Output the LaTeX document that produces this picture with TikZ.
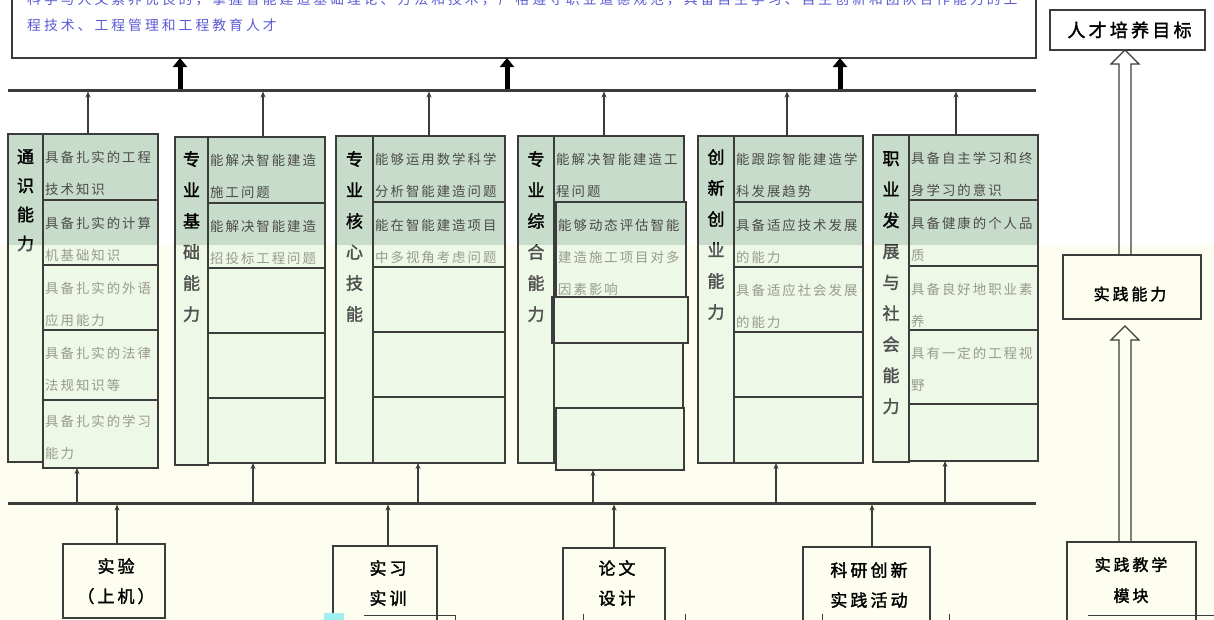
\documentclass[tikz,border=0pt]{standalone}
\usepackage{fontspec}
\newfontfamily\cjk{Noto Sans CJK SC}[LetterSpace=15]
\newfontfamily\cjkT{Noto Sans CJK SC}[LetterSpace=22]
\newfontfamily\cjkB{Noto Sans CJK SC}[FakeBold=1.8]
\newfontfamily\cjkBs{Noto Sans CJK SC}[FakeBold=1.8,LetterSpace=18]
\usetikzlibrary{arrows.meta,calc}
\definecolor{lineclr}{HTML}{3C3C3C}
\definecolor{upfill}{HTML}{C8DCCB}
\definecolor{lowfill}{HTML}{EDF8E6}
\definecolor{cream}{HTML}{FEFEF0}
\definecolor{toptext}{HTML}{5B5BD6}
\definecolor{upitem}{HTML}{4A4A4A}
\definecolor{lowitem}{HTML}{9A9A8E}
\definecolor{lowlabel}{HTML}{505050}
\definecolor{glitch}{HTML}{A0F0F0}
\tikzset{
  x=1pt, y=-1pt,
  box/.style={draw=lineclr, line width=1.2pt, inner sep=0pt, outer sep=0pt, anchor=north west},
  itm/.style={inner sep=0pt, anchor=north west, align=left, font={\cjk\fontsize{13.4}{32}\selectfont}},
  lbl/.style={inner sep=0pt, anchor=north, align=center, font={\cjkB\fontsize{17}{31}\selectfont}},
  btxt/.style={inner sep=0pt, anchor=north, align=center, text=black, font={\cjkBs\fontsize{17}{30}\selectfont}},
  mainline/.style={draw=lineclr, line width=3pt},
  thinarr/.style={draw=lineclr, line width=1.2pt, -{Stealth[length=6pt,width=5pt]}},
  thickarr/.style={draw=black, line width=5pt, -{Triangle[width=14pt,length=9pt]}},
  hollow/.style={draw=lineclr, line width=1.2pt, line join=miter},
}
\newcommand\bx[5]{\node[box, minimum width={#4-#2}, minimum height={#5-#3}] (#1) at (#2,#3) {};}
\def\boxlist{c1L/8/134/43/462, c1a/43/134/158/200, c1b/43/200/158/265, c1c/43/265/158/330, c1d/43/330/158/400, c1e/43/400/158/468,
c2L/175/137/208/465, c2a/208/137/325/203, c2b/208/203/325/268, c2c/208/268/325/333, c2d/208/333/325/398, c2e/208/398/325/463,
c3L/336/136/373/463, c3a/373/136/505/202, c3b/373/202/505/267, c3c/373/267/505/332, c3d/373/332/505/397, c3e/373/397/505/463,
c4L/518/136/554/463, c4a/554/136/684/202, c4b/556/202/686/297, c4c/552/297/688/343, c4d/554/343/683/408, c4e/556/408/684/470,
c5L/698/136/734/463, c5a/734/136/863/202, c5b/734/202/863/267, c5c/734/267/863/332, c5d/734/332/863/397, c5e/734/397/863/463,
c6L/873/135/909/462, c6a/909/135/1038/200, c6b/909/200/1038/266, c6c/909/266/1038/330, c6d/909/330/1038/404, c6e/909/404/1038/461}
\newcommand\itemtexts[3]{%
  \node[itm,text=#1] (t1a#3) at (45,151) {具备扎实的工程\\技术知识};
  \node[itm,text=#1] (t1b#3) at (45,217) {具备扎实的计算\\机基础知识};
  \node[itm,text=#1] (t1c#3) at (45,282) {具备扎实的外语\\应用能力};
  \node[itm,text=#1] (t1d#3) at (45,347) {具备扎实的法律\\法规知识等};
  \node[itm,text=#1] (t1e#3) at (45,415) {具备扎实的学习\\能力};
  \node[itm,text=#1] (t2a#3) at (210,154) {能解决智能建造\\施工问题};
  \node[itm,text=#1] (t2b#3) at (210,220) {能解决智能建造\\招投标工程问题};
  \node[itm,text=#1] (t3a#3) at (375,153) {能够运用数学科学\\分析智能建造问题};
  \node[itm,text=#1] (t3b#3) at (375,219) {能在智能建造项目\\中多视角考虑问题};
  \node[itm,text=#1] (t4a#3) at (556,153) {能解决智能建造工\\程问题};
  \node[itm,text=#1] (t4b#3) at (558,219) {能够动态评估智能\\建造施工项目对多\\因素影响};
  \node[itm,text=#1] (t5a#3) at (736,153) {能跟踪智能建造学\\科发展趋势};
  \node[itm,text=#1] (t5b#3) at (736,219) {具备适应技术发展\\的能力};
  \node[itm,text=#1] (t5c#3) at (736,284) {具备适应社会发展\\的能力};
  \node[itm,text=#1] (t6a#3) at (911,152) {具备自主学习和终\\身学习的意识};
  \node[itm,text=#1] (t6b#3) at (911,217) {具备健康的个人品\\质};
  \node[itm,text=#1] (t6c#3) at (911,283) {具备良好地职业素\\养};
  \node[itm,text=#1] (t6d#3) at (911,347) {具有一定的工程视\\野};
  \node[lbl,text=#2,font={\cjkB\fontsize{17}{29}\selectfont}] (L1#3) at (25.5,149) {通\\识\\能\\力};
  \node[lbl,text=#2] (L2#3) at (191.5,151) {专\\业\\基\\础\\能\\力};
  \node[lbl,text=#2] (L3#3) at (354.5,151) {专\\业\\核\\心\\技\\能};
  \node[lbl,text=#2] (L4#3) at (536,151) {专\\业\\综\\合\\能\\力};
  \node[lbl,text=#2] (L5#3) at (716,149) {创\\新\\创\\业\\能\\力};
  \node[lbl,text=#2] (L6#3) at (891,151) {职\\业\\发\\展\\与\\社\\会\\能\\力};
}
\begin{document}
\begin{tikzpicture}
\useasboundingbox (0,0) rectangle (1214,619);
% backgrounds
\fill[white] (0,-30) rectangle (1214,245);
\fill[cream] (0,245) rectangle (1214,640);
% top goal box
\node[box, minimum width=1024, minimum height=74] (goal) at (12,-16) {};
\node[inner sep=0pt, anchor=north west, align=left, text=toptext, font={\cjkT\fontsize{13.8}{26}\selectfont}] (goaltxt) at (27,-7)
  {科学与人文素养优良的，掌握智能建造基础理论、方法和技术，严格遵守职业道德规范，具备自主学习、自主创新和团队合作能力的工\\程技术、工程管理和工程教育人才};
% columns: fills and texts, two tones
\begin{scope}
  \clip (0,-30) rectangle (1214,245);
  \foreach \n/\a/\b/\c/\d in \boxlist {\fill[upfill] (\a,\b) rectangle (\c,\d);}
  \itemtexts{upitem}{black}{u}
\end{scope}
\begin{scope}
  \clip (0,245) rectangle (1214,640);
  \foreach \n/\a/\b/\c/\d in \boxlist {\fill[lowfill] (\a,\b) rectangle (\c,\d);}
  \itemtexts{lowitem}{lowlabel}{l}
\end{scope}
\foreach \n/\a/\b/\c/\d in \boxlist {\bx{\n}{\a}{\b}{\c}{\d}}
% main lines
\coordinate (L1w) at (8,90);  \coordinate (L1e) at (1036,90);
\coordinate (L2w) at (8,503); \coordinate (L2e) at (1036,503);
\draw[mainline] (L1w) -- (L1e);
\draw[mainline] (L2w) -- (L2e);
% thick arrows to goal
\foreach \x/\k in {180/1,507/2,840/3} {
  \coordinate (ta\k) at (\x,89);
  \draw[thickarr] (ta\k) -- (ta\k |- goal.south);
}
% thin arrows from columns up to top line
\foreach \x/\c/\k in {88/c1a/1,263/c2a/2,429/c3a/3,604/c4a/4,787/c5a/5,956/c6a/6} {
  \coordinate (tu\k) at (\x,91.5);
  \draw[thinarr] (tu\k |- \c.north) -- (tu\k);
}
% thin arrows from bottom line up to columns
\foreach \x/\c/\k in {77/c1e/1,253/c2e/2,418/c3e/3,593/c4e/4,776/c5e/5,945/c6e/6} {
  \coordinate (bu\k) at (\x,501.5);
  \draw[thinarr] (bu\k) -- (bu\k |- \c.south);
}
% bottom practice boxes
\bx{sy}{63}{544}{165}{618}
\bx{sx}{333}{546}{437}{660}
\bx{lw}{563}{548}{665}{660}
\bx{ky}{803}{547}{930}{660}
\node[btxt] (syt) at (116,558) {实验\\（上机）};
\node[btxt] (sxt) at (388,560) {实习\\实训};
\node[btxt] (lwt) at (617,560) {论文\\设计};
\node[btxt] (kyt) at (869,562) {科研创新\\实践活动};
\foreach \x/\c/\k in {117/sy/1,388/sx/2,614/lw/3,872/ky/4} {
  \coordinate (bl\k) at (\x,504.5);
  \draw[thinarr] (bl\k |- \c.north) -- (bl\k);
}
% right side
\bx{rc}{1050}{10}{1205}{50}
\node[inner sep=0pt, text=black, font={\cjkBs\fontsize{18}{20}\selectfont}] (rct) at (1129.5,30) {人才培养目标};
\bx{sj}{1063}{255}{1201}{319}
\node[inner sep=0pt, text=black, font={\cjkBs\fontsize{16}{20}\selectfont}] (sjt) at (1130,294) {实践能力};
\bx{jx}{1067}{542}{1196}{660}
\node[btxt, font={\cjkBs\fontsize{16}{31}\selectfont}] (jxt) at (1131,557) {实践教学\\模块};
\coordinate (h1b) at (1125,255); \coordinate (h1t) at (h1b |- rc.south);
\draw[hollow] ($(h1b)+(-6,0)$) -- ($(h1t)+(-6,14)$) -- ($(h1t)+(-14,14)$) -- (h1t) -- ($(h1t)+(14,14)$) -- ($(h1t)+(6,14)$) -- ($(h1b)+(6,0)$);
\coordinate (h2b) at (1125,542); \coordinate (h2t) at (1125,326);
\draw[hollow] ($(h2b)+(-6,0)$) -- ($(h2t)+(-6,14)$) -- ($(h2t)+(-14,14)$) -- (h2t) -- ($(h2t)+(14,14)$) -- ($(h2t)+(6,14)$) -- ($(h2b)+(6,0)$);
% bottom edge fragments
\draw[lineclr, line width=1pt] (364,615) -- (455,615) -- (455,620);
\foreach \x in {583,685,822,949} {\draw[lineclr, line width=1pt] (\x,614) -- (\x,620);}
\draw[lineclr, line width=1pt] (1088,615) -- (1214,615);
\fill[glitch] (324,613) rectangle (344,620);
\end{tikzpicture}
\end{document}
